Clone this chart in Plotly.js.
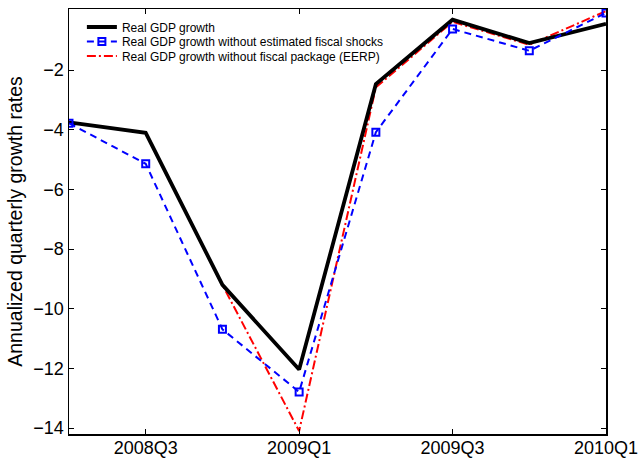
<!DOCTYPE html>
<html>
<head>
<meta charset="utf-8">
<script src="https://cdn.plot.ly/plotly-3.0.1.min.js"></script>
<style>html,body{margin:0;padding:0;background:#fff;}#chart{width:641px;height:458px;}</style>
</head>
<body>
<div id="chart"></div>
<script>
const quarters = ["2008Q2", "2008Q3", "2008Q4", "2009Q1", "2009Q2", "2009Q3", "2009Q4", "2010Q1"];
const tickLabels = ["2008Q3", "2009Q1", "2009Q3", "2010Q1"];
const yTicks = [-14, -12, -10, -8, -6, -4, -2];
const realGDP = [-3.75, -4.1, -9.2, -12.04, -2.47, -0.31, -1.09, -0.45];
const noFiscalShocks = [-3.78, -5.14, -10.69, -12.79, -4.08, -0.62, -1.35, -0.08];
const noFiscalPackage = [-3.75, -4.1, -9.2, -14.1, -2.58, -0.38, -1.15, -0.02];

const FONT = "Liberation Sans, Arial, Helvetica, sans-serif";

const traces = [
  {
    x: quarters, y: noFiscalPackage, type: "scatter", mode: "lines",
    name: "Real GDP growth without fiscal package (EERP)",
    line: {color: "rgb(255,0,0)", width: 2, dash: "9px,3px,2px,3px"},
    legend: "legend3"
  },
  {
    x: quarters, y: realGDP, type: "scatter", mode: "lines",
    name: "Real GDP growth",
    line: {color: "#000000", width: 3.8},
    legend: "legend"
  },
  {
    x: quarters, y: noFiscalShocks, type: "scatter", mode: "lines+markers",
    name: "Real GDP growth without estimated fiscal shocks",
    line: {color: "rgb(0,0,255)", width: 2, dash: "7px,5px"},
    marker: {symbol: "square-open", size: 7, color: "rgb(0,0,255)", line: {width: 2, color: "rgb(0,0,255)"}},
    legend: "legend2"
  }
];

function leg(y) {
  return {
    x: 0.024, y: y, xanchor: "left", yanchor: "top",
    bgcolor: "rgba(0,0,0,0)", borderwidth: 0,
    font: {family: FONT, size: 12, color: "#000"}
  };
}

const layout = {
  width: 641, height: 458,
  margin: {l: 69, r: 35, t: 9, b: 24, pad: 0},
  paper_bgcolor: "#ffffff", plot_bgcolor: "#ffffff",
  font: {family: FONT, size: 18, color: "#000"},
  showlegend: true,
  legend: leg(0.9918),
  legend2: leg(0.9577),
  legend3: leg(0.9236),
  xaxis: {
    type: "category",
    categoryorder: "array", categoryarray: quarters,
    range: [0, 7],
    tickmode: "array", tickvals: tickLabels, ticktext: tickLabels,
    ticks: "inside", ticklen: 5, tickwidth: 1, tickcolor: "#000",
    ticklabelstandoff: -3,
    showline: true, linecolor: "#000", linewidth: 1.5, mirror: "ticks",
    showgrid: false, zeroline: false,
    tickfont: {family: FONT, size: 18, color: "#000"}
  },
  yaxis: {
    range: [-14.2, 0.05],
    tickmode: "array", tickvals: yTicks,
    ticks: "inside", ticklen: 5, tickwidth: 1, tickcolor: "#000",
    showline: true, linecolor: "#000", linewidth: 1.5, mirror: "ticks",
    showgrid: false, zeroline: false,
    tickfont: {family: FONT, size: 18, color: "#000"},
    title: {text: "Annualized quarterly growth rates", font: {family: FONT, size: 19.5, color: "#000"}, standoff: 5}
  }
};

Plotly.newPlot("chart", traces, layout, {staticPlot: true, displayModeBar: false});
</script>
</body>
</html>
